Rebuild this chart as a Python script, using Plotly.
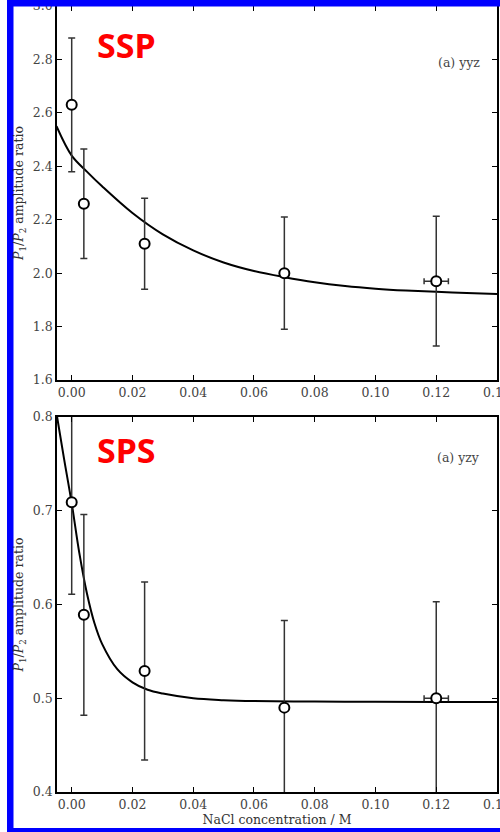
import plotly.graph_objects as go
from plotly.subplots import make_subplots

# ---------------- data ----------------
conc = [0.0, 0.004, 0.024, 0.07, 0.12]
conc_err = [None, None, None, None, 0.004]

ssp_ratio = [2.63, 2.26, 2.11, 2.00, 1.97]
ssp_err = [0.25, 0.205, 0.17, 0.21, 0.243]

sps_ratio = [0.709, 0.589, 0.529, 0.490, 0.500]
sps_err = [0.098, 0.107, 0.095, 0.093, 0.103]

ssp_fit_x = [-0.005, 0.0, 0.005, 0.01, 0.02, 0.03, 0.04, 0.05, 0.06, 0.07,
             0.08, 0.09, 0.10, 0.11, 0.12, 0.13, 0.14]
ssp_fit_y = [2.55, 2.44, 2.38, 2.325, 2.225, 2.145, 2.085, 2.04, 2.008, 1.985,
             1.966, 1.952, 1.942, 1.935, 1.930, 1.926, 1.922]

sps_fit_x = [-0.0048, -0.0025, 0.0, 0.0025, 0.005, 0.0075, 0.01, 0.015, 0.02,
             0.025, 0.03, 0.04, 0.05, 0.06, 0.08, 0.10, 0.12, 0.14]
sps_fit_y = [0.80, 0.755, 0.708, 0.655, 0.612, 0.58, 0.558, 0.531, 0.517,
             0.509, 0.505, 0.500, 0.498, 0.497, 0.4965, 0.4962, 0.496, 0.496]

x_ticks = [0.00, 0.02, 0.04, 0.06, 0.08, 0.10, 0.12, 0.14]
ssp_yticks = [1.6, 1.8, 2.0, 2.2, 2.4, 2.6, 2.8, 3.0]
sps_yticks = [0.4, 0.5, 0.6, 0.7, 0.8]

# ---------------- layout geometry ----------------
W, H = 500, 832
ML, MR, MT, MB = 57, 3, 6, 40
PW, PH = W - ML - MR, H - MT - MB


def px(x):
    return (x - ML) / PW


def py(y):
    return (H - MB - y) / PH


SERIF = "DejaVu Serif"

fig = make_subplots(rows=2, cols=1)

marker = dict(symbol="circle", size=10, color="white",
              line=dict(color="black", width=2))

for row, yv, ye, fx, fy in [(1, ssp_ratio, ssp_err, ssp_fit_x, ssp_fit_y),
                            (2, sps_ratio, sps_err, sps_fit_x, sps_fit_y)]:
    fig.add_trace(go.Scatter(
        x=fx, y=fy, mode="lines", line=dict(color="black", width=2, shape="spline"),
        showlegend=False, hoverinfo="skip"), row=row, col=1)
    fig.add_trace(go.Scatter(
        x=conc, y=yv, mode="markers", marker=marker, showlegend=False,
        error_y=dict(type="data", array=ye, visible=True, color="#333",
                     thickness=1.5, width=3.5),
        error_x=dict(type="data", array=conc_err, visible=True, color="#333",
                     thickness=1.5, width=3),
    ), row=row, col=1)

axis_common = dict(
    showline=True, linecolor="black", linewidth=1.5, mirror="ticks",
    ticks="inside", ticklen=5, tickwidth=1, tickcolor="black",
    showgrid=False, zeroline=False, ticklabeloverflow="allow",
    tickfont=dict(family=SERIF, size=12.5, color="#444"),
)

fig.update_xaxes(range=[-0.00484, 0.14], tickvals=x_ticks, tickformat=".2f",
                 **axis_common)
fig.update_xaxes(title=dict(text="NaCl concentration / M",
                            font=dict(family=SERIF, size=12.5, color="#333"),
                            standoff=4), row=2, col=1)

ytitle = "<i>P</i><sub>1</sub>/<i>P</i><sub>2</sub> amplitude ratio"
fig.update_yaxes(range=[1.6, 3.0], tickvals=ssp_yticks, tickformat=".1f",
                 title=dict(text=ytitle, font=dict(family=SERIF, size=12.5, color="#333"),
                            standoff=6),
                 row=1, col=1, **axis_common)
fig.update_yaxes(range=[0.4, 0.8], tickvals=sps_yticks, tickformat=".1f",
                 title=dict(text=ytitle, font=dict(family=SERIF, size=12.5, color="#333"),
                            standoff=6),
                 row=2, col=1, **axis_common)

fig.update_layout(
    xaxis=dict(domain=[0, 1], anchor="y"),
    xaxis2=dict(domain=[0, 1], anchor="y2"),
    yaxis=dict(domain=[py(380), 1.0]),
    yaxis2=dict(domain=[0.0, py(417)]),
)

annots = [
    dict(text="<b>SSP</b>", x=px(126), y=py(45), font=dict(family="Noto Sans", size=34, color="#ff0000"),
         xanchor="center", yanchor="middle"),
    dict(text="<b>SPS</b>", x=px(126), y=py(450), font=dict(family="Noto Sans", size=34, color="#ff0000"),
         xanchor="center", yanchor="middle"),
    dict(text="(a) yyz", x=px(482), y=py(63), font=dict(family=SERIF, size=12.5, color="#444"),
         xanchor="right", yanchor="middle"),
    dict(text="(a) yzy", x=px(482), y=py(458), font=dict(family=SERIF, size=12.5, color="#444"),
         xanchor="right", yanchor="middle"),
]
for a in annots:
    fig.add_annotation(xref="paper", yref="paper", showarrow=False, **a)

BLUE = "#0000ff"
shapes = [
    dict(x0=px(7), x1=px(13.5), y0=py(0), y1=py(H)),          # left bar
    dict(x0=px(7), x1=px(W + 5), y0=py(-2), y1=py(6.5)),      # top bar
    dict(x0=px(7), x1=px(W + 5), y0=py(828), y1=py(H + 2)),   # bottom bar
]
for s in shapes:
    fig.add_shape(type="rect", xref="paper", yref="paper", fillcolor=BLUE,
                  line=dict(width=0), layer="above", **s)

fig.update_layout(
    width=W, height=H,
    margin=dict(l=ML, r=MR, t=MT, b=MB, autoexpand=False),
    paper_bgcolor="white", plot_bgcolor="white",
    showlegend=False,
)

fig.write_html("out.html", config={"displayModeBar": False},
               post_script="document.body.style.margin='0';document.body.style.overflow='hidden';")
